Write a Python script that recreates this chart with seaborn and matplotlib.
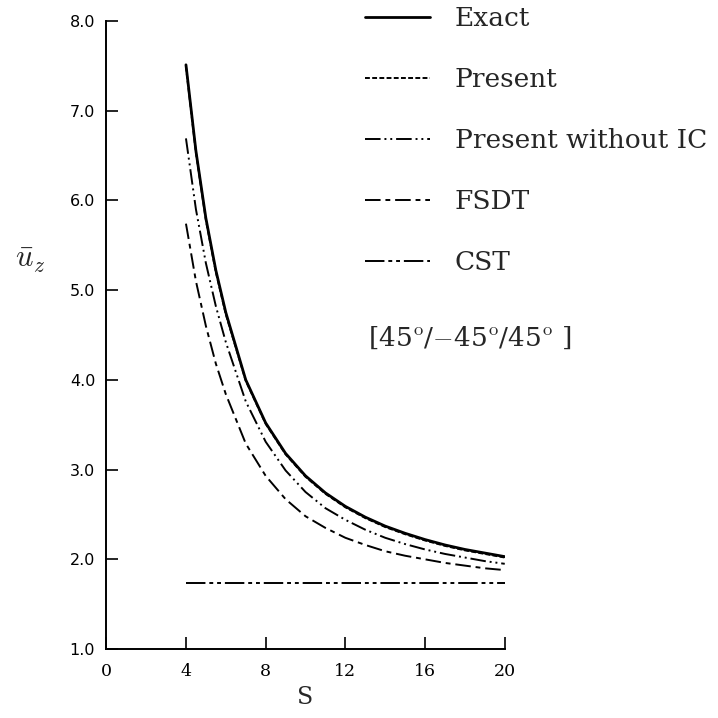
import numpy as np
import pandas as pd
import matplotlib
matplotlib.use('Agg')
import matplotlib.pyplot as plt
import seaborn as sns

# ===== data =====
S = [4, 4.5, 5, 5.5, 6, 7, 8, 9, 10, 11, 12, 13, 14, 15, 16, 17, 18, 19, 20]
exact = [7.51, 6.55, 5.80, 5.22, 4.75, 4.00, 3.52, 3.18, 2.93, 2.74, 2.59, 2.47, 2.37, 2.29, 2.22, 2.16, 2.11, 2.07, 2.03]
present = [7.49, 6.53, 5.78, 5.20, 4.73, 3.99, 3.51, 3.17, 2.92, 2.73, 2.58, 2.46, 2.36, 2.28, 2.21, 2.15, 2.10, 2.06, 2.02]
present_no_ic = [6.69, 5.90, 5.30, 4.82, 4.42, 3.76, 3.31, 2.99, 2.75, 2.57, 2.44, 2.33, 2.24, 2.17, 2.11, 2.06, 2.02, 1.98, 1.95]
fsdt = [5.74, 5.10, 4.60, 4.18, 3.84, 3.29, 2.93, 2.67, 2.48, 2.35, 2.24, 2.16, 2.09, 2.04, 2.00, 1.96, 1.93, 1.90, 1.88]
cst = [1.74] * len(S)

names = ['Exact', 'Present', 'Present without IC', 'FSDT', 'CST']
series = [exact, present, present_no_ic, fsdt, cst]

df = pd.concat([pd.DataFrame({'S': S, 'uz': v, 'model': n}) for n, v in zip(names, series)],
               ignore_index=True)

dash_map = {
    'Exact': '',
    'Present': (2.5, 1.2),
    'Present without IC': (8, 2, 1, 2, 1, 2),
    'FSDT': (8, 2.5, 2.5, 2.5),
    'CST': (10, 2, 2, 2, 2, 2),
}

sns.set_style('ticks')
plt.rcParams['font.family'] = ['DejaVu Serif', 'DejaVu Sans']
plt.rcParams['mathtext.fontset'] = 'cm'

fig = plt.figure(figsize=(7.18, 7.18), dpi=100)
ax = fig.add_axes([0.148, 0.096, 0.555, 0.875])

sns.lineplot(data=df, x='S', y='uz', style='model', dashes=dash_map, color='black',
             linewidth=1.4, ax=ax, legend=True)
ax.lines[0].set_linewidth(2.0)

ax.set_xlim(0, 20)
ax.set_ylim(1.0, 8.0)
ax.set_xticks([0, 4, 8, 12, 16, 20])
ax.set_yticks([1, 2, 3, 4, 5, 6, 7, 8])
ax.set_yticklabels(['%.1f' % v for v in range(1, 9)], family='DejaVu Sans', fontsize=11.5)
ax.set_xticklabels(['0', '4', '8', '12', '16', '20'], fontsize=12.5)
ax.tick_params(direction='in', length=8.5, width=1.2, colors='black')
ax.tick_params(axis='y', pad=8)
ax.tick_params(axis='x', pad=10)
sns.despine(ax=ax)
for sp in ['left', 'bottom']:
    ax.spines[sp].set_linewidth(1.4)
    ax.spines[sp].set_color('black')

ax.set_xlabel('S', fontsize=17, labelpad=4)
ax.set_ylabel(r'$\bar{u}_z$', fontsize=22, rotation=0)
ax.yaxis.set_label_coords(-0.19, 0.595)

# legend on the right, unframed
handles, labels = ax.get_legend_handles_labels()
for h in handles:
    h.set_color('black')
    h.set_linewidth(1.4)
handles[0].set_linewidth(2.0)
ax.get_legend().remove()
fig.legend(handles, labels, loc='upper left', bbox_to_anchor=(0.494, 1.006), frameon=False,
           fontsize=19, handlelength=2.45, handletextpad=0.95, labelspacing=1.36,
           borderaxespad=0.0)

fig.text(0.512, 1 - 338 / 718, r'[45$^{\rm o}$/$-$45$^{\rm o}$/45$^{\rm o}$ ]', fontsize=19,
         va='center', ha='left')

fig.savefig('out.png', dpi=100)
